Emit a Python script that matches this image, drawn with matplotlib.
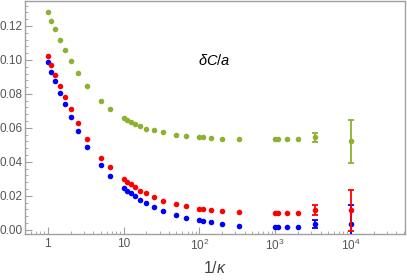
import matplotlib
matplotlib.use("Agg")
import matplotlib.pyplot as plt
import numpy as np
from matplotlib.ticker import FixedLocator, FuncFormatter, LogLocator, MultipleLocator

inv_kappa = [1, 1.111, 1.25, 1.429, 1.667, 2, 2.5, 3.333, 5, 6.667,
             10, 11.11, 12.5, 14.29, 16.67, 20, 25, 33.33, 50, 66.67,
             100, 111.1, 142.9, 200, 333.3,
             1000, 1111, 1429, 2000, 3333, 10000]

green = [0.128, 0.123, 0.118, 0.112, 0.106, 0.0994, 0.0925, 0.0847, 0.076, 0.0712,
         0.0657, 0.0647, 0.0637, 0.0623, 0.0611, 0.0596, 0.0586, 0.0575, 0.0559, 0.0551,
         0.0547, 0.0546, 0.0541, 0.0537, 0.0533,
         0.0533, 0.0533, 0.0533, 0.0533, 0.0545, 0.052]
red = [0.1024, 0.0969, 0.091, 0.0847, 0.078, 0.071, 0.0627, 0.0535, 0.0425, 0.0367,
       0.0298, 0.0282, 0.0269, 0.025, 0.0231, 0.0216, 0.0192, 0.0171, 0.0149, 0.0137,
       0.0124, 0.0124, 0.0116, 0.0112, 0.0104,
       0.0098, 0.0098, 0.0098, 0.0098, 0.0114, 0.0114]
blue = [0.0986, 0.0931, 0.0873, 0.0808, 0.0739, 0.0665, 0.0584, 0.0488, 0.0382, 0.0318,
        0.0245, 0.0231, 0.0216, 0.0197, 0.0176, 0.0155, 0.0133, 0.0112, 0.0084, 0.0069,
        0.0055, 0.0051, 0.0043, 0.0035, 0.0025,
        0.0018, 0.0018, 0.0018, 0.0016, 0.0033, 0.0031]

green_err = [0]*29 + [0.0027, 0.0127]
red_err = [0]*29 + [0.0029, 0.0122]
blue_err = [0]*29 + [0.0022, 0.0116]

y_ticks = [0.00, 0.02, 0.04, 0.06, 0.08, 0.10, 0.12]
x_ticks = [1, 10, 100, 1000, 10000]
x_tick_labels = ["1", "10", "$10^{2}$", "$10^{3}$", "$10^{4}$"]

plt.rcParams['font.family'] = ['Liberation Sans', 'DejaVu Sans']
plt.rcParams['mathtext.fontset'] = 'custom'
plt.rcParams['mathtext.rm'] = 'Liberation Sans'
plt.rcParams['mathtext.it'] = 'Liberation Sans:italic'

fig = plt.figure(figsize=(4.07, 2.80), dpi=100)
ax = fig.add_axes([25/407, 46/280, 380/407, 233/280])

c_green = '#8DB131'
c_red = '#FF0000'
c_blue = '#0000FF'
ms = 4.0

for vals, err, col in [(green, green_err, c_green), (blue, blue_err, c_blue), (red, red_err, c_red)]:
    x = np.array(inv_kappa)
    v = np.array(vals)
    e = np.array(err)
    ax.plot(x, v, 'o', color=col, ms=ms, mew=0, zorder=3)
    m = e > 0
    ax.errorbar(x[m], v[m], yerr=e[m], fmt='none', ecolor=col, elinewidth=1.3,
                capsize=2.5, capthick=1.3, zorder=3)

ax.set_xscale('log')
ax.set_xlim(0.5, 5.2e4)
ax.set_ylim(-0.0025, 0.1347)

ax.xaxis.set_major_locator(FixedLocator(x_ticks))
ax.xaxis.set_major_formatter(FuncFormatter(lambda v, p: x_tick_labels[x_ticks.index(v)] if v in x_ticks else ""))
ax.xaxis.set_minor_locator(LogLocator(base=10, subs=np.arange(2, 10), numticks=20))
ax.xaxis.set_minor_formatter(FuncFormatter(lambda v, p: ""))
ax.yaxis.set_major_locator(FixedLocator(y_ticks))
ax.yaxis.set_major_formatter(FuncFormatter(lambda v, p: f"{v:.2f}"))
ax.yaxis.set_minor_locator(MultipleLocator(0.004))

frame_col = '#A0A0A0'
for s in ax.spines.values():
    s.set_color(frame_col)
    s.set_linewidth(1.0)
ax.tick_params(which='both', direction='in', color=frame_col, labelcolor='#555555',
               labelsize=8.5, top=False, right=False)
ax.tick_params(which='major', length=5, width=0.8, pad=2)
ax.tick_params(which='minor', length=2.5, width=0.6)
ax.tick_params(axis='x', which='major', pad=3)

ax.text(0.497, 0.746, r"$\delta C/a$", transform=ax.transAxes, fontsize=10.5,
        ha='center', va='center', color='black')
ax.set_xlabel(r"$1/\kappa$", fontsize=11.5, color='#444444', labelpad=5)

fig.savefig("out.png", dpi=100)
